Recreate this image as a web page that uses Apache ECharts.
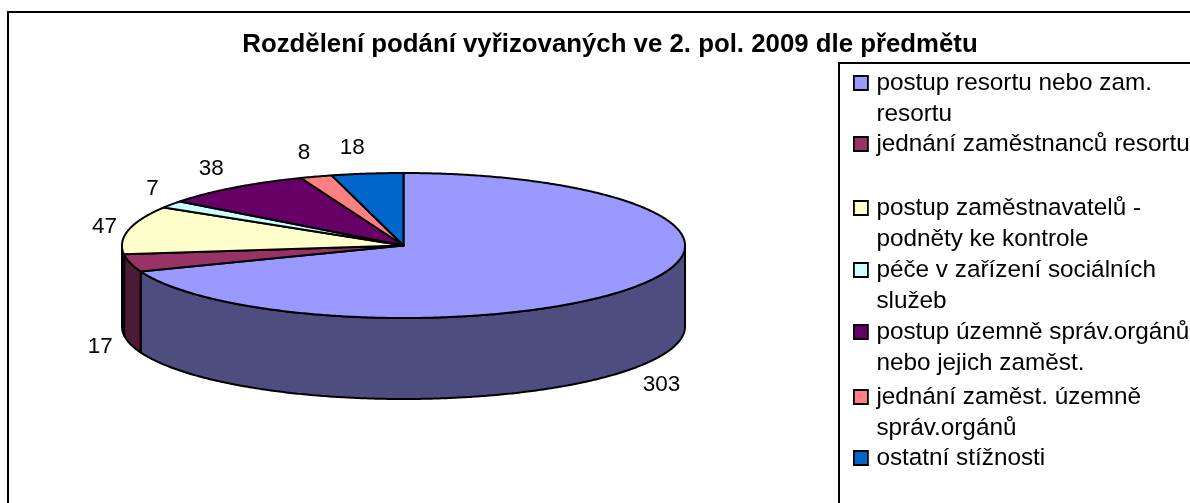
<!DOCTYPE html>
<html><head><meta charset="utf-8">
<style>html,body{margin:0;padding:0;background:#fff}#c{width:1190px;height:503px}</style>
<script src="https://cdn.jsdelivr.net/npm/echarts@6/dist/echarts.min.js"></script>
</head><body><div id="c"></div>
<script>
const titleText = 'Rozdělení podání vyřizovaných ve 2. pol. 2009 dle předmětu';
const categories = ['postup resortu nebo zam. resortu','jednání zaměstnanců resortu','postup zaměstnavatelů - podněty ke kontrole','péče v zařízení sociálních služeb','postup územně správ.orgánů nebo jejich zaměst.','jednání zaměst. územně správ.orgánů','ostatní stížnosti'];
const legendLines = ['postup resortu nebo zam.\nresortu','jednání zaměstnanců resortu','postup zaměstnavatelů -\npodněty ke kontrole','péče v zařízení sociálních\nslužeb','postup územně správ.orgánů\nnebo jejich zaměst.','jednání zaměst. územně\nspráv.orgánů','ostatní stížnosti'];
const values = [303,17,47,7,38,8,18];
const topColors = ['#9999FF','#993366','#FFFFCC','#CCFFFF','#660066','#FF8080','#0066CC'];
const sideColors = ['#4D4D80','#4D1A33','#808066','#668080','#330033','#804040','#003366'];

// layout
const PIE = {cx:403.5, cy:245.5, rx:281.5, ry:72.5, depth:81};
const labelOffsets = [[26,98],[-30,84],[-24,-3],[-19,-16],[-23,-19],[-12,-24],[-15,-26]];
const legendCenters = [83,144,208,270,332,397,458];
const FONT = '"Liberation Sans", Arial, sans-serif';
const LEGEND_FS = 24.3, LEGEND_LH = 31;

const total = values.reduce((a,b)=>a+b,0);
const starts = values.map((_,i)=>values.slice(0,i).reduce((a,b)=>a+b,0));
const pt = (deg,dy=0)=>{const r=deg*Math.PI/180;return [PIE.cx+PIE.rx*Math.sin(r),PIE.cy-PIE.ry*Math.cos(r)+dy];};
function arc(a,b,dy){const n=Math.max(2,Math.ceil(Math.abs(b-a)/0.5));const p=[];for(let k=0;k<=n;k++)p.push(pt(a+(b-a)*k/n,dy));return p;}

function makeRender(i){
  return function(params,api){
    const v=api.value(0);
    const a=starts[i]/total*360, b=a+v/total*360, mid=(a+b)/2;
    const children=[];
    const fa=Math.max(a,90), fb=Math.min(b,270);
    if(fb>fa){
      const pts=arc(fa,fb,0).concat(arc(fb,fa,PIE.depth));
      children.push({type:'polygon',shape:{points:pts},style:{fill:sideColors[i],stroke:'#000',lineWidth:2,lineJoin:'round'}});
    }
    const top=[[PIE.cx,PIE.cy]].concat(arc(a,b,0));
    children.push({type:'polygon',shape:{points:top},style:{fill:topColors[i],stroke:'#000',lineWidth:2,lineJoin:'round'}});
    const m=pt(mid);
    children.push({type:'text',style:{text:String(v),x:m[0]+labelOffsets[i][0],y:m[1]+labelOffsets[i][1],align:'center',verticalAlign:'middle',fill:'#000',font:'22.5px '+FONT}});
    return {type:'group',children};
  };
}

const series = categories.map((name,i)=>({
  type:'custom',name,coordinateSystem:'none',silent:true,animation:false,clip:false,
  itemStyle:{color:topColors[i]},data:[[values[i]]],renderItem:makeRender(i)
}));

const legend = categories.map((name,i)=>{
  const two = legendLines[i].includes('\n');
  return {
    data:[name],left:853,top:legendCenters[i]-(two?1.5:0.5)*LEGEND_LH,orient:'vertical',padding:0,selectedMode:false,
    icon:'path://M0 0H10V10H0Z',symbolKeepAspect:true,itemWidth:21,itemHeight:14,itemGap:0,
    itemStyle:{borderColor:'#000',borderWidth:1.8},
    formatter:()=>two?'\n'+legendLines[i]:legendLines[i],
    textStyle:{fontFamily:FONT,fontSize:LEGEND_FS,lineHeight:LEGEND_LH,color:'#000'}
  };
});

const chart = echarts.init(document.getElementById('c'),null,{renderer:'canvas'});
chart.setOption({
  animation:false,backgroundColor:'#fff',
  title:{text:titleText,left:610,top:32,textAlign:'center',padding:0,
    textStyle:{fontFamily:FONT,fontSize:25.8,fontWeight:'bold',color:'#000'}},
  tooltip:{show:false},
  legend,
  graphic:[
    {type:'rect',z:-1,shape:{x:8,y:12,width:1300,height:600},style:{fill:'#fff',stroke:'#000',lineWidth:2}},
    {type:'rect',z:-1,shape:{x:839,y:63,width:500,height:600},style:{fill:'#fff',stroke:'#000',lineWidth:2}}
  ],
  series
});
</script></body></html>
